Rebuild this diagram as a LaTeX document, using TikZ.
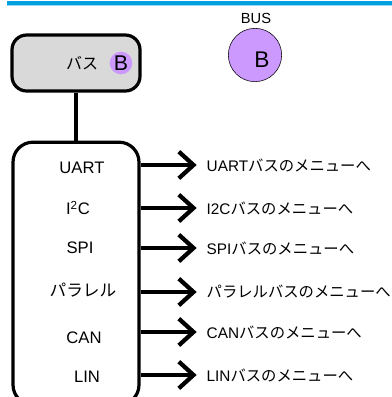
\documentclass[tikz,border=0pt]{standalone}
\usepackage{fontspec}
\setmainfont{Liberation Sans}
\newfontfamily\jpfont{Noto Sans CJK JP}
\usetikzlibrary{arrows.meta}
\definecolor{busviolet}{RGB}{204,153,255}
\definecolor{keygray}{RGB}{217,217,217}
\definecolor{barblue}{RGB}{0,160,225}
\tikzset{
    keybox/.style = {rectangle, rounded corners=11pt, line width=2.4pt, draw=black, fill=keygray, minimum width=96pt, minimum height=42pt},
    listbox/.style = {rectangle, rounded corners=15pt, line width=2.4pt, draw=black, fill=white, minimum width=94.5pt, minimum height=197pt},
    iconbig/.style = {circle, thin, draw=black, fill=busviolet, minimum size=40pt},
    iconsmall/.style = {circle, fill=busviolet, minimum size=17pt, inner sep=0pt},
    item/.style = {font=\fontsize{12.5}{14}\selectfont},
    target/.style = {anchor=west, font=\fontsize{11.5}{13}\selectfont},
    edgen/.style = {line width=3.2pt, -{Straight Barb[length=11pt,width=20pt]}},
}

\begin{document}
\begin{tikzpicture}[x=0.75pt,y=-0.75pt]
\useasboundingbox (0,0) rectangle (392,397);
\clip (0,0) rectangle (392,397);
% header bar
\fill[barblue!40] (7,4) rectangle (392,6);
\fill[barblue] (7,1) rectangle (392,4.5);
% soft key and icon
\node[keybox] at (76,63) (key) {};
\node at (82,63) (keytext) {\jpfont\fontsize{12}{14}\selectfont バス};
\node[iconsmall] at (121,63) (keyicon) {\fontsize{16}{18}\selectfont B};
\node[iconbig] at (255,55) (icon) {};
\node at (262,60) (iconb) {\fontsize{17}{19}\selectfont B};
\node at (256,18) (iconlabel) {\fontsize{11}{13}\selectfont BUS};
% bus list
\node[listbox] at (76,273.5) (list) {};
\draw[line width=2.4pt] (key.south) -- (list.north);
\node[item] at (82,168) (uart) {UART};
\node[item] at (78,208) (iic) {I\textsuperscript{2}C};
\node[item] at (80,248) (spi) {SPI};
\node[item] at (83,290) (para) {\jpfont パラレル};
\node[item] at (84,338) (can) {CAN};
\node[item] at (87,377) (lin) {LIN};
% menus
\node[target] at (202,165) (tuart) {UART{\jpfont バスのメニューへ}};
\node[target] at (202,208) (tiic) {I2C{\jpfont バスのメニューへ}};
\node[target] at (202,248) (tspi) {SPI{\jpfont バスのメニューへ}};
\node[target] at (202,292) (tpara) {\jpfont パラレルバスのメニューへ};
\node[target] at (202,332) (tcan) {CAN{\jpfont バスのメニューへ}};
\node[target] at (202,375) (tlin) {LIN{\jpfont バスのメニューへ}};
%
\draw[edgen] (list.east |- tuart.west) -- ([xshift=-4pt]tuart.west);
\draw[edgen] (list.east |- tiic.west) -- ([xshift=-4pt]tiic.west);
\draw[edgen] (list.east |- tspi.west) -- ([xshift=-4pt]tspi.west);
\draw[edgen] (list.east |- tpara.west) -- ([xshift=-4pt]tpara.west);
\draw[edgen] (list.east |- tcan.west) -- ([xshift=-4pt]tcan.west);
\draw[edgen] (list.east |- tlin.west) -- ([xshift=-4pt]tlin.west);
\end{tikzpicture}
\end{document}
